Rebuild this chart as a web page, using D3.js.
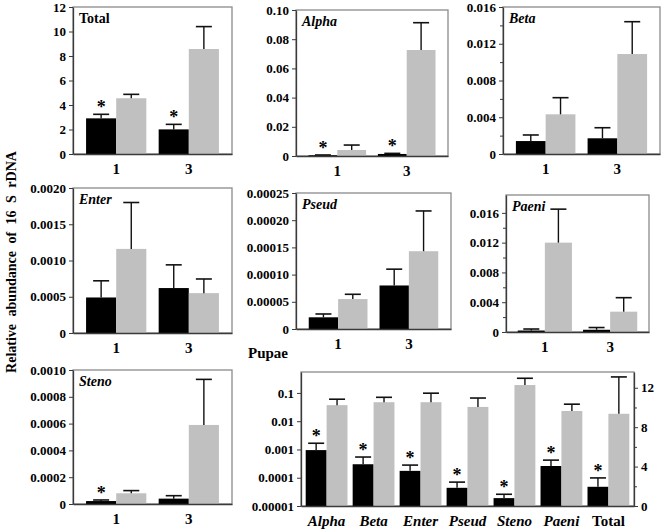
<!DOCTYPE html>
<html><head><meta charset="utf-8">
<script src="https://cdn.jsdelivr.net/npm/d3@7"></script>
<style>
body{margin:0;background:#fff;}
svg{display:block;}
svg text{font-family:"Liberation Serif","Times New Roman","DejaVu Serif",serif !important;font-weight:bold;}
</style></head>
<body><svg id="chart" width="662" height="531"></svg>
<script>
// ---------- data ----------
const groups = ["1", "3"];
const panelTitles = ["Total", "Alpha", "Beta", "Enter", "Pseud", "Paeni", "Steno"];
const titleItalic = [false, true, true, true, true, true, true];
const blackMean = [[2.91, 2.01], [0.0005, 0.0014], [0.00141, 0.00171], [0.00049, 0.00062], [0.0000215, 0.00008], [0.0002, 0.0003], [0.000022, 0.00004]];
const blackErr  = [[3.24, 2.42], [0.0007, 0.0018], [0.00207, 0.00286], [0.00072, 0.00094], [0.0000276, 0.00011], [0.0004, 0.0006], [0.00003, 0.000062]];
const grayMean  = [[4.55, 8.57], [0.0041, 0.0726], [0.00432, 0.01088], [0.00116, 0.00055], [0.000055, 0.000143], [0.012, 0.00273], [0.00008, 0.00059]];
const grayErr   = [[4.87, 10.4], [0.0075, 0.0913], [0.00613, 0.0144], [0.0018, 0.000745], [0.0000638, 0.000217], [0.0165, 0.00461], [0.0001, 0.00093]];
const blackStar = [[true, true], [true, true], [false, false], [false, false], [false, false], [false, false], [true, false]];
const yMax = [12, 0.10, 0.016, 0.002, 0.00025, 0.0184, 0.001];
const yTickValues = [
  [0, 2, 4, 6, 8, 10, 12],
  [0, 0.02, 0.04, 0.06, 0.08, 0.10],
  [0, 0.004, 0.008, 0.012, 0.016],
  [0, 0.0005, 0.001, 0.0015, 0.002],
  [0, 0.00005, 0.0001, 0.00015, 0.0002, 0.00025],
  [0, 0.004, 0.008, 0.012, 0.016],
  [0, 0.0002, 0.0004, 0.0006, 0.0008, 0.001]
];
const yTickLabels = [
  ["0", "2", "4", "6", "8", "10", "12"],
  ["0", "0.02", "0.04", "0.06", "0.08", "0.10"],
  ["0", "0.004", "0.008", "0.012", "0.016"],
  ["0", "0.0005", "0.0010", "0.0015", "0.0020"],
  ["0", "0.00005", "0.00010", "0.00015", "0.00020", "0.00025"],
  ["0", "0.004", "0.008", "0.012", "0.016"],
  ["0", "0.0002", "0.0004", "0.0006", "0.0008", "0.0010"]
];
const yMinorTicks = [[], [], [0.002, 0.006, 0.010, 0.014], [], [], [0.002, 0.006, 0.010, 0.014], []];

// Pupae panel
const pupaeCategories = ["Alpha", "Beta", "Enter", "Pseud", "Steno", "Paeni", "Total"];
const pupaeItalic = [true, true, true, true, true, true, false];
const pupaeBlack    = [0.00095, 0.0003, 0.000175, 0.000044, 0.000019, 0.00026, 1.95];
const pupaeBlackErr = [0.00166, 0.00054, 0.00028, 0.00007, 0.000026, 0.00042, 2.85];
const pupaeGray     = [0.037, 0.047, 0.047, 0.032, 0.19, 0.023, 9.36];
const pupaeGrayErr  = [0.06, 0.07, 0.098, 0.066, 0.33, 0.04, 13.1];
const pupaeRightAxisCategory = "Total";
const pupaeLogTicks = [0.00001, 0.0001, 0.001, 0.01, 0.1];
const pupaeLogLabels = ["0.00001", "0.0001", "0.001", "0.01", "0.1"];
const pupaeLogDomain = [0.00001, 0.55];
const pupaeRightTicks = [0, 4, 8, 12];
const pupaeRightMinor = [2, 6, 10];
const pupaeRightMax = 13.6;

// ---------- layout ----------
const panelBoxes = [
  {l: 73, t: 7, r: 232, b: 154},
  {l: 296, t: 10, r: 448, b: 156},
  {l: 503, t: 7, r: 660, b: 154},
  {l: 73, t: 188, r: 232, b: 333},
  {l: 296, t: 193, r: 451, b: 329},
  {l: 506, t: 195, r: 649, b: 332},
  {l: 73, t: 370, r: 232, b: 504}
];
const pupaeBox = {l: 301, t: 372, r: 634, b: 506};

const BLACK = "#000000", GRAY = "#c0c0c0", FRAME = "#8a8a8a", AXIS = "#3a3a3a";
const TICK_FONT = "13px";
const svg = d3.select("#chart");

function drawErr(g, cx, yTop, yErr, w) {
  g.append("line").attr("x1", cx).attr("x2", cx).attr("y1", yTop).attr("y2", yErr)
    .attr("stroke", "#111").attr("stroke-width", 1.4);
  g.append("line").attr("x1", cx - w / 2).attr("x2", cx + w / 2).attr("y1", yErr).attr("y2", yErr)
    .attr("stroke", "#111").attr("stroke-width", 1.6);
}
function drawStar(g, cx, yErr) {
  g.append("text").attr("x", cx).attr("y", yErr - 1).attr("text-anchor", "middle")
    .style("font-size", "18px").attr("fill", "#000").text("*");
}
function styleAxis(a) {
  a.attr("font-family", null).attr("font-size", null);
  a.selectAll("path.domain").attr("stroke", AXIS).attr("stroke-width", 1.3);
  a.selectAll(".tick line").attr("stroke", AXIS).attr("stroke-width", 1);
  a.selectAll(".tick text").attr("fill", "#000");
}

// ---------- small panels ----------
panelTitles.forEach((title, p) => {
  const box = panelBoxes[p];
  const g = svg.append("g");
  const x = d3.scaleBand().domain(groups).range([box.l, box.r]).paddingInner(0.17).paddingOuter(0.18);
  const xs = d3.scaleBand().domain(["black", "gray"]).range([0, x.bandwidth()]);
  const y = d3.scaleLinear().domain([0, yMax[p]]).range([box.b, box.t]);

  g.append("rect").attr("x", box.l).attr("y", box.t).attr("width", box.r - box.l).attr("height", box.b - box.t)
    .attr("fill", "none").attr("stroke", FRAME).attr("stroke-width", 1.3);

  groups.forEach((grp, i) => {
    const bx = x(grp) + xs("black"), gx = x(grp) + xs("gray"), bw = xs.bandwidth();
    const cap = Math.min(16, bw * 0.85);
    g.append("rect").attr("x", bx).attr("y", y(blackMean[p][i])).attr("width", bw)
      .attr("height", Math.max(1.2, y(0) - y(blackMean[p][i]))).attr("fill", BLACK);
    g.append("rect").attr("x", gx).attr("y", y(grayMean[p][i])).attr("width", bw)
      .attr("height", y(0) - y(grayMean[p][i])).attr("fill", GRAY);
    drawErr(g, bx + bw / 2, y(blackMean[p][i]), y(blackErr[p][i]), cap);
    drawErr(g, gx + bw / 2, y(grayMean[p][i]), y(grayErr[p][i]), cap);
    if (blackStar[p][i]) drawStar(g, bx + bw / 2, y(blackErr[p][i]));
  });

  const ay = g.append("g").attr("transform", `translate(${box.l},0)`)
    .call(d3.axisLeft(y).tickValues(yTickValues[p]).tickFormat((d, i) => yTickLabels[p][i])
      .tickSize(4).tickSizeOuter(0).tickPadding(3));
  styleAxis(ay);
  ay.selectAll(".tick text").style("font-size", TICK_FONT);
  if (yMinorTicks[p].length) {
    const am = g.append("g").attr("transform", `translate(${box.l},0)`)
      .call(d3.axisLeft(y).tickValues(yMinorTicks[p]).tickFormat("").tickSize(3).tickSizeOuter(0));
    am.select("path.domain").remove();
    styleAxis(am);
  }
  const ax = g.append("g").attr("transform", `translate(0,${box.b})`)
    .call(d3.axisBottom(x).tickSize(0).tickSizeOuter(0).tickPadding(9));
  styleAxis(ax);
  ax.selectAll(".tick text").style("font-size", "15px");

  g.append("text").attr("x", box.l + 6).attr("y", box.t + 16).style("font-size", "14px")
    .style("font-style", titleItalic[p] ? "italic" : "normal").attr("fill", "#000").text(title);
});

// ---------- Pupae panel ----------
{
  const box = pupaeBox;
  const g = svg.append("g");
  const x = d3.scaleBand().domain(pupaeCategories).range([box.l, box.r]).paddingInner(0.11).paddingOuter(0.1);
  const xs = d3.scaleBand().domain(["black", "gray"]).range([0, x.bandwidth()]);
  const yL = d3.scaleLog().domain(pupaeLogDomain).range([box.b, box.t]);
  const yR = d3.scaleLinear().domain([0, pupaeRightMax]).range([box.b, box.t]);

  g.append("rect").attr("x", box.l).attr("y", box.t).attr("width", box.r - box.l).attr("height", box.b - box.t)
    .attr("fill", "none").attr("stroke", FRAME).attr("stroke-width", 1.3);

  pupaeCategories.forEach((c, i) => {
    const y = c === pupaeRightAxisCategory ? yR : yL;
    const base = box.b;
    const bx = x(c) + xs("black"), gx = x(c) + xs("gray"), bw = xs.bandwidth();
    const cap = Math.min(16, bw * 0.8);
    g.append("rect").attr("x", bx).attr("y", y(pupaeBlack[i])).attr("width", bw)
      .attr("height", base - y(pupaeBlack[i])).attr("fill", BLACK);
    g.append("rect").attr("x", gx).attr("y", y(pupaeGray[i])).attr("width", bw)
      .attr("height", base - y(pupaeGray[i])).attr("fill", GRAY);
    drawErr(g, bx + bw / 2, y(pupaeBlack[i]), y(pupaeBlackErr[i]), cap);
    drawErr(g, gx + bw / 2, y(pupaeGray[i]), y(pupaeGrayErr[i]), cap);
    drawStar(g, bx + bw / 2, y(pupaeBlackErr[i]));
  });

  const al = g.append("g").attr("transform", `translate(${box.l},0)`)
    .call(d3.axisLeft(yL).tickValues(pupaeLogTicks).tickFormat((d, i) => pupaeLogLabels[i])
      .tickSize(4).tickSizeOuter(0).tickPadding(3));
  styleAxis(al);
  al.selectAll(".tick text").style("font-size", TICK_FONT);

  const ar = g.append("g").attr("transform", `translate(${box.r},0)`)
    .call(d3.axisRight(yR).tickValues(pupaeRightTicks).tickSize(4).tickSizeOuter(0).tickPadding(3));
  styleAxis(ar);
  ar.selectAll(".tick text").style("font-size", TICK_FONT);
  const arm = g.append("g").attr("transform", `translate(${box.r},0)`)
    .call(d3.axisRight(yR).tickValues(pupaeRightMinor).tickFormat("").tickSize(3).tickSizeOuter(0));
  arm.select("path.domain").remove();
  styleAxis(arm);

  const ax = g.append("g").attr("transform", `translate(0,${box.b})`)
    .call(d3.axisBottom(x).tickSize(0).tickSizeOuter(0).tickPadding(9));
  styleAxis(ax);
  ax.selectAll(".tick text").style("font-size", "15px")
    .style("font-style", (d, i) => pupaeItalic[i] ? "italic" : "normal");

  g.append("text").attr("x", 248).attr("y", 358).style("font-size", "15px").attr("fill", "#000").text("Pupae");
}

// ---------- y axis title ----------
svg.append("text").attr("transform", "translate(16,262) rotate(-90)").attr("text-anchor", "middle")
  .style("font-size", "14px").style("word-spacing", "4px").attr("fill", "#000")
  .text("Relative abundance of 16 S rDNA");
</script></body></html>
